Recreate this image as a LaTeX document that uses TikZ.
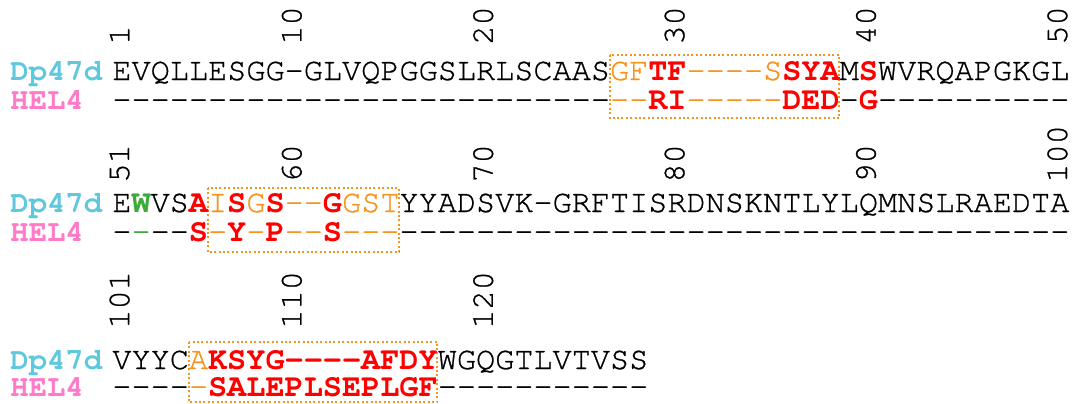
\documentclass[tikz,border=0pt]{standalone}
\usepackage{fontspec}
\newfontfamily\cursorfont{texgyrecursor}[Extension=.otf,UprightFont=*-regular,BoldFont=*-bold,Ligatures=TeXOff,UprightFeatures={FakeBold=0.8}]
\definecolor{dpcol}{RGB}{95,200,220}
\definecolor{helcol}{RGB}{255,122,200}
\definecolor{orng}{RGB}{247,148,30}
\definecolor{rd}{RGB}{255,0,0}
\definecolor{grn}{RGB}{60,170,60}
\newcommand\gaps[1]{\ifnum#1>0 -\kern0pt\expandafter\gaps\expandafter{\the\numexpr#1-1\relax}\fi}
\newcommand\Or[1]{{\color{orng}#1}}
\newcommand\Rb[1]{{\color{rd}\bfseries#1}}
\newcommand\Gb[1]{{\color{grn}\bfseries#1}}
\newcommand\Gn[1]{{\color{grn}#1}}
\newcommand\seqfont{\cursorfont\fontsize{15.95}{18}\selectfont}
\newcommand\labfont{\cursorfont\bfseries\fontsize{15.3}{18}\selectfont}
\begin{document}
\begin{tikzpicture}[x=0.5pt,y=-0.5pt,
  seq/.style={anchor=base west,inner sep=0pt,font=\seqfont},
  lab/.style={anchor=base west,inner sep=0pt,font=\labfont},
  num/.style={rotate=90,anchor=west,inner sep=0pt,font=\seqfont},
  regionbox/.style={draw=orng,line width=1pt,dash pattern=on 1pt off 1.2pt}]
\useasboundingbox (0,0) rectangle (1072,403);
% labels
\foreach \r/\ya/\yb in {1/80/109,2/212/241,3/369/396}{
  \node[lab,text=dpcol] (dp\r) at (10,\ya) {Dp47d};
  \node[lab,text=helcol] (hel\r) at (10,\yb) {HEL4};
}
% numbers
\foreach \n/\c in {1/1,10/10,20/20,30/30,40/40,50/50}
  \node[num] (n\n) at ({112+(\c-0.5)*19.14-2},45) {\n};
\foreach \n/\c in {51/1,60/10,70/20,80/30,90/40,100/50}
  \node[num] (n\n) at ({112+(\c-0.5)*19.14-2},183) {\n};
\foreach \n/\c in {101/1,110/10,120/20}
  \node[num] (n\n) at ({112+(\c-0.5)*19.14-2},329) {\n};
% boxes
\draw[regionbox] (609.6,55) rectangle (839.3,118);
\draw[regionbox] (207.7,188) rectangle (399.1,252);
\draw[regionbox] (188.6,342) rectangle (437.4,402);
% row 1
\node[seq] (s1a) at (112,80) {EVQLLESGG\gaps{1}GLVQPGGSLRLSCAAS\Or{GF}\Rb{TF}\Or{\gaps{4}S}\Rb{SYA}M\Rb{S}WVRQAPGKGL};
\node[seq] (s1b) at (112,109) {\gaps{26}\Or{\gaps{2}}\Rb{RI}\Or{\gaps{5}}\Rb{DED}\gaps{1}\Rb{G}\gaps{10}};
% row 2
\node[seq] (s2a) at (112,212) {E\Gb{W}VS\Rb{A}\Or{I}\Rb{S}\Or{G}\Rb{S}\Or{\gaps{2}}\Rb{G}\Or{GST}YYADSVK\gaps{1}GRFTISRDNSKNTLYLQMNSLRAEDTA};
\node[seq] (s2b) at (112,241) {\gaps{1}\Gn{\gaps{1}}\gaps{2}\Rb{S}\Or{\gaps{1}}\Rb{Y}\Or{\gaps{1}}\Rb{P}\Or{\gaps{2}}\Rb{S}\Or{\gaps{3}}\gaps{35}};
% row 3
\node[seq] (s3a) at (112,369) {VYYC\Or{A}\Rb{KSYG\gaps{4}AFDY}WGQGTLVTVSS};
\node[seq] (s3b) at (112,396) {\gaps{4}\Or{\gaps{1}}\Rb{SALEPLSEPLGF}\gaps{11}};
\end{tikzpicture}
\end{document}
